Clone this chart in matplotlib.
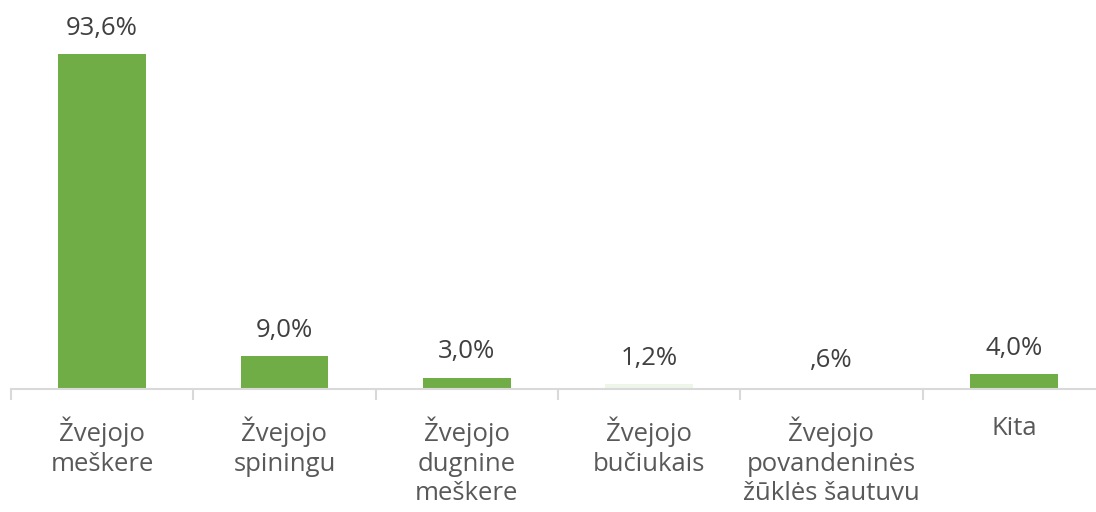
import numpy as np
import matplotlib
matplotlib.use('Agg')
import matplotlib.pyplot as plt

categories = ['Žvejojo\nmeškere', 'Žvejojo\nspiningu', 'Žvejojo\ndugnine\nmeškere',
              'Žvejojo\nbučiukais', 'Žvejojo\npovandeninės\nžūklės šautuvu', 'Kita']
values = [93.6, 9.0, 3.0, 1.2, 0.6, 4.0]
labels = ['93,6%', '9,0%', '3,0%', '1,2%', ',6%', '4,0%']
colors = ['#70AD47', '#70AD47', '#70AD47', '#EEF5E9', '#FFFFFF', '#70AD47']

plt.rcParams['font.family'] = ['Open Sans', 'DejaVu Sans']

fig = plt.figure(figsize=(10.96, 5.12), dpi=100)
ax = fig.add_axes([11/1096, 123.5/512, 1094/1096, 357/512])

x = np.arange(len(categories))
ax.bar(x, values, width=0.48, color=colors)
for xi, v, lab in zip(x, values, labels):
    ax.annotate(lab, (xi, v), xytext=(0, 14), textcoords='offset points',
                ha='center', va='baseline', fontsize=18.5, color='#404040')

ax.set_xlim(-0.5, len(categories) - 0.5)
ax.set_ylim(0, 100)
ax.set_yticks([])
for s in ['top', 'right', 'left']:
    ax.spines[s].set_visible(False)
ax.spines['bottom'].set_color('#D9D9D9')
ax.spines['bottom'].set_linewidth(1.5)

ax.set_xticks(x)
ax.set_xticklabels(categories, fontsize=18.5, color='#595959', linespacing=1.25)
ax.tick_params(axis='x', length=0, pad=20)
ax.set_xticks(np.arange(len(categories) + 1) - 0.5, minor=True)
ax.tick_params(axis='x', which='minor', length=8, width=1.5, color='#D9D9D9')

fig.savefig('out.png', dpi=100)
